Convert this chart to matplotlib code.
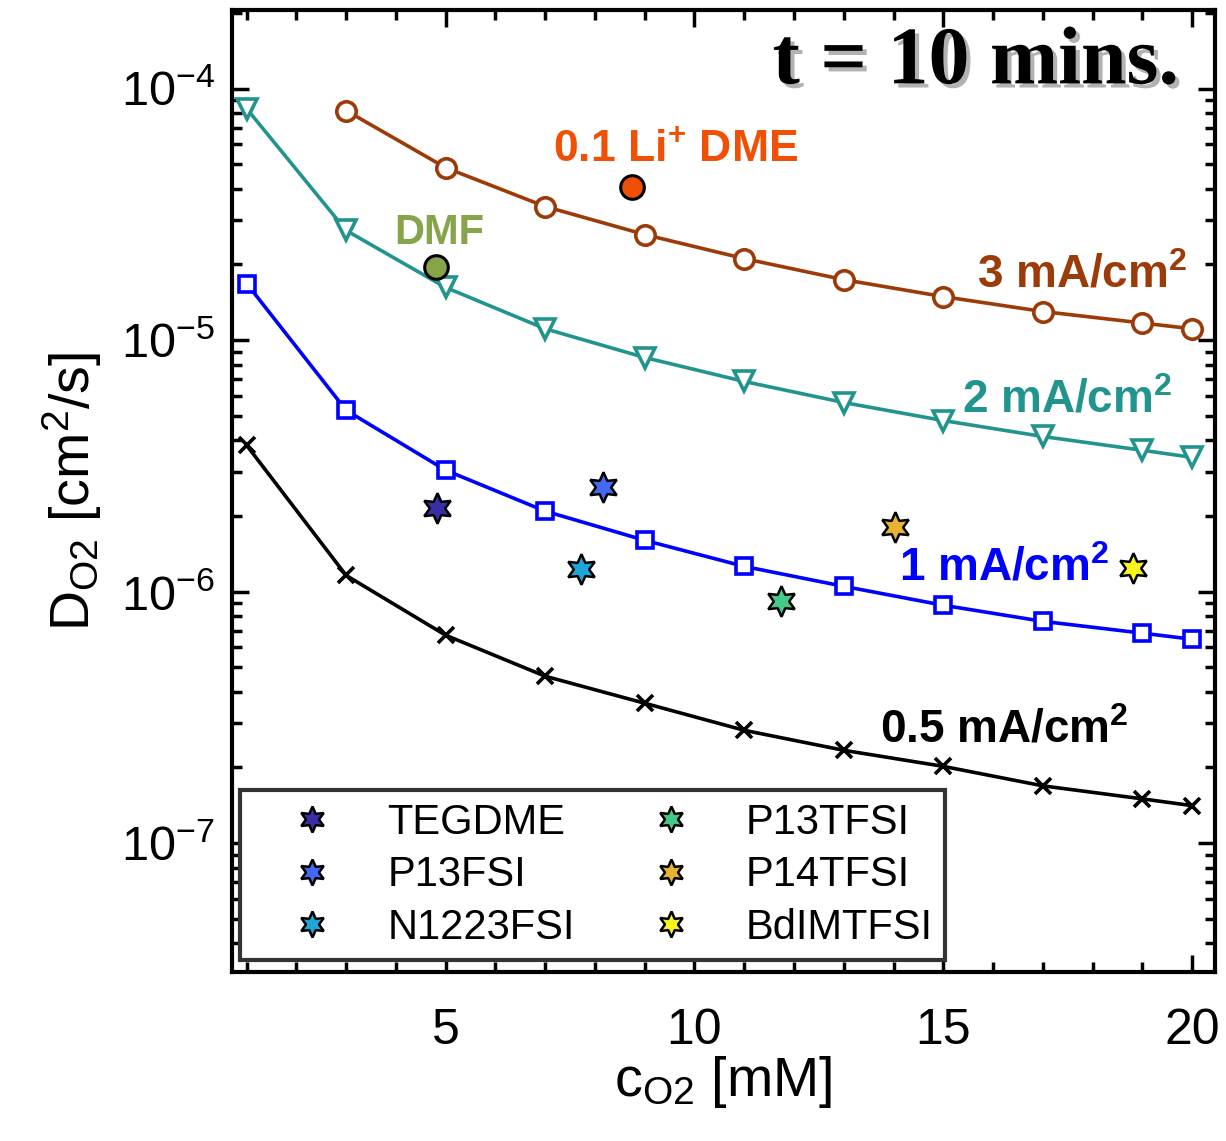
import numpy as np
import matplotlib
matplotlib.use('Agg')
import matplotlib.pyplot as plt
import matplotlib.patheffects as pe
from matplotlib.ticker import FixedLocator, MultipleLocator, LogLocator, NullFormatter

plt.rcParams['font.family'] = ['Liberation Sans', 'DejaVu Sans']
plt.rcParams['mathtext.fontset'] = 'custom'
plt.rcParams['mathtext.rm'] = 'Liberation Sans'
plt.rcParams['mathtext.it'] = 'Liberation Sans:italic'
plt.rcParams['mathtext.bf'] = 'Liberation Sans:bold'

# data
c_3mA = [3, 5, 7, 9, 11, 13, 15, 17, 19, 20]
D_3mA = [8.18e-5, 4.85e-5, 3.40e-5, 2.63e-5, 2.11e-5, 1.74e-5, 1.49e-5, 1.30e-5, 1.17e-5, 1.11e-5]

c_curve = [1, 3, 5, 7, 9, 11, 13, 15, 17, 19, 20]
D_2mA = [8.33e-5, 2.73e-5, 1.62e-5, 1.11e-5, 8.53e-6, 6.85e-6, 5.65e-6, 4.79e-6, 4.14e-6, 3.65e-6, 3.42e-6]
D_1mA = [1.68e-5, 5.26e-6, 3.04e-6, 2.09e-6, 1.60e-6, 1.26e-6, 1.05e-6, 8.83e-7, 7.62e-7, 6.84e-7, 6.47e-7]
D_05mA = [3.82e-6, 1.16e-6, 6.71e-7, 4.61e-7, 3.60e-7, 2.81e-7, 2.34e-7, 2.02e-7, 1.69e-7, 1.50e-7, 1.41e-7]

ionic_names = ['TEGDME', 'P13FSI', 'N1223FSI', 'P13TFSI', 'P14TFSI', 'BdIMTFSI']
ionic_c = [4.82, 8.17, 7.71, 11.73, 14.03, 18.82]
ionic_D = [2.16e-6, 2.60e-6, 1.23e-6, 9.16e-7, 1.80e-6, 1.24e-6]
ionic_colors = ['#3a2ea6', '#4468f2', '#1fa6d8', '#45c98a', '#e7b432', '#f6f51c']

dmf_c, dmf_D = 4.80, 1.96e-5
li_c, li_D = 8.75, 4.08e-5

fig = plt.figure(figsize=(12.26, 11.41), dpi=100)
ax = fig.add_axes([0.189, 0.148, 0.802, 0.843])

brown = '#9c3a08'
teal = '#22948e'
blue = '#0000ff'

ax.plot(c_3mA, D_3mA, '-o', color=brown, lw=2.6, ms=14, mfc='white', mew=2.6)
ax.plot(c_curve, D_2mA, '-v', color=teal, lw=2.6, ms=14, mfc='white', mew=2.6)
ax.plot(c_curve, D_1mA, '-s', color=blue, lw=2.6, ms=11, mfc='white', mew=2.6)
ax.plot(c_curve, D_05mA, '-x', color='black', lw=2.6, ms=12, mew=2.6)

for n, cx, dy, col in zip(ionic_names, ionic_c, ionic_D, ionic_colors):
    ax.plot(cx, dy, ls='none', marker=(6, 1, 0), ms=22, mfc=col, mec='black',
            mew=1.8, label=n)

ax.plot(dmf_c, dmf_D, 'o', ms=17, mfc='#86a44a', mec='black', mew=2.2)
ax.plot(li_c, li_D, 'o', ms=17, mfc='#f05006', mec='black', mew=2.2)

ax.text(15.67, 1.62e-5, r'$\mathbf{3\ mA/cm^2}$', color=brown, fontsize=33, va='baseline')
ax.text(15.37, 5.16e-6, r'$\mathbf{2\ mA/cm^2}$', color=teal, fontsize=33, va='baseline')
ax.text(14.12, 1.11e-6, r'$\mathbf{1\ mA/cm^2}$', color=blue, fontsize=33, va='baseline')
ax.text(13.72, 2.52e-7, r'$\mathbf{0.5\ mA/cm^2}$', color='black', fontsize=33, va='baseline')
ax.text(7.15, 5.13e-5, r'0.1 Li$^{\mathbf{+}}$ DME', color='#f05006', fontsize=32,
        fontweight='bold', va='baseline')
ax.text(3.97, 2.42e-5, 'DMF', color='#86a44a', fontsize=30, fontweight='bold', va='baseline')

ax.text(0.964, 0.924, 't = 10 mins.', transform=ax.transAxes, ha='right', va='baseline',
        fontsize=59, fontweight='bold', family='Liberation Serif',
        path_effects=[pe.withSimplePatchShadow(offset=(3, -3), shadow_rgbFace='gray', alpha=0.6)])

ax.set_yscale('log')
ax.set_xlim(0.7, 20.46)
ax.set_ylim(3.07e-8, 2.05e-4)

ax.xaxis.set_major_locator(FixedLocator([5, 10, 15, 20]))
ax.xaxis.set_minor_locator(MultipleLocator(1))
ax.yaxis.set_major_locator(FixedLocator([1e-7, 1e-6, 1e-5, 1e-4]))
ax.yaxis.set_minor_locator(LogLocator(base=10, subs=np.arange(2, 10), numticks=20))
ax.yaxis.set_minor_formatter(NullFormatter())
ax.set_yticklabels([r'$\mathregular{10^{-7}}$', r'$\mathregular{10^{-6}}$',
                    r'$\mathregular{10^{-5}}$', r'$\mathregular{10^{-4}}$'])

ax.tick_params(which='both', direction='in', top=True, right=True, width=2.5)
ax.tick_params(which='major', length=12)
ax.tick_params(which='minor', length=7)
ax.tick_params(axis='y', labelsize=35, pad=12)
ax.tick_params(axis='x', labelsize=36, pad=26)
for s in ax.spines.values():
    s.set_linewidth(3)

ax.set_xlabel(r'c$_{\mathregular{O2}}$ [mM]', fontsize=40, labelpad=0)
ax.set_ylabel(r'D$_{\mathregular{O2}}$ [cm$^{\mathregular{2}}$/s]', fontsize=40, labelpad=12)

leg = ax.legend(ncol=2, loc='lower left', bbox_to_anchor=(0.008, 0.0125), fontsize=30,
                fancybox=False, edgecolor='#333333', framealpha=1, borderaxespad=0,
                handlelength=2.9, handletextpad=0.35, columnspacing=0.85,
                borderpad=0.3, labelspacing=0.3, markerscale=0.85)
leg.get_frame().set_linewidth(3)

fig.savefig('out.png', dpi=100)
